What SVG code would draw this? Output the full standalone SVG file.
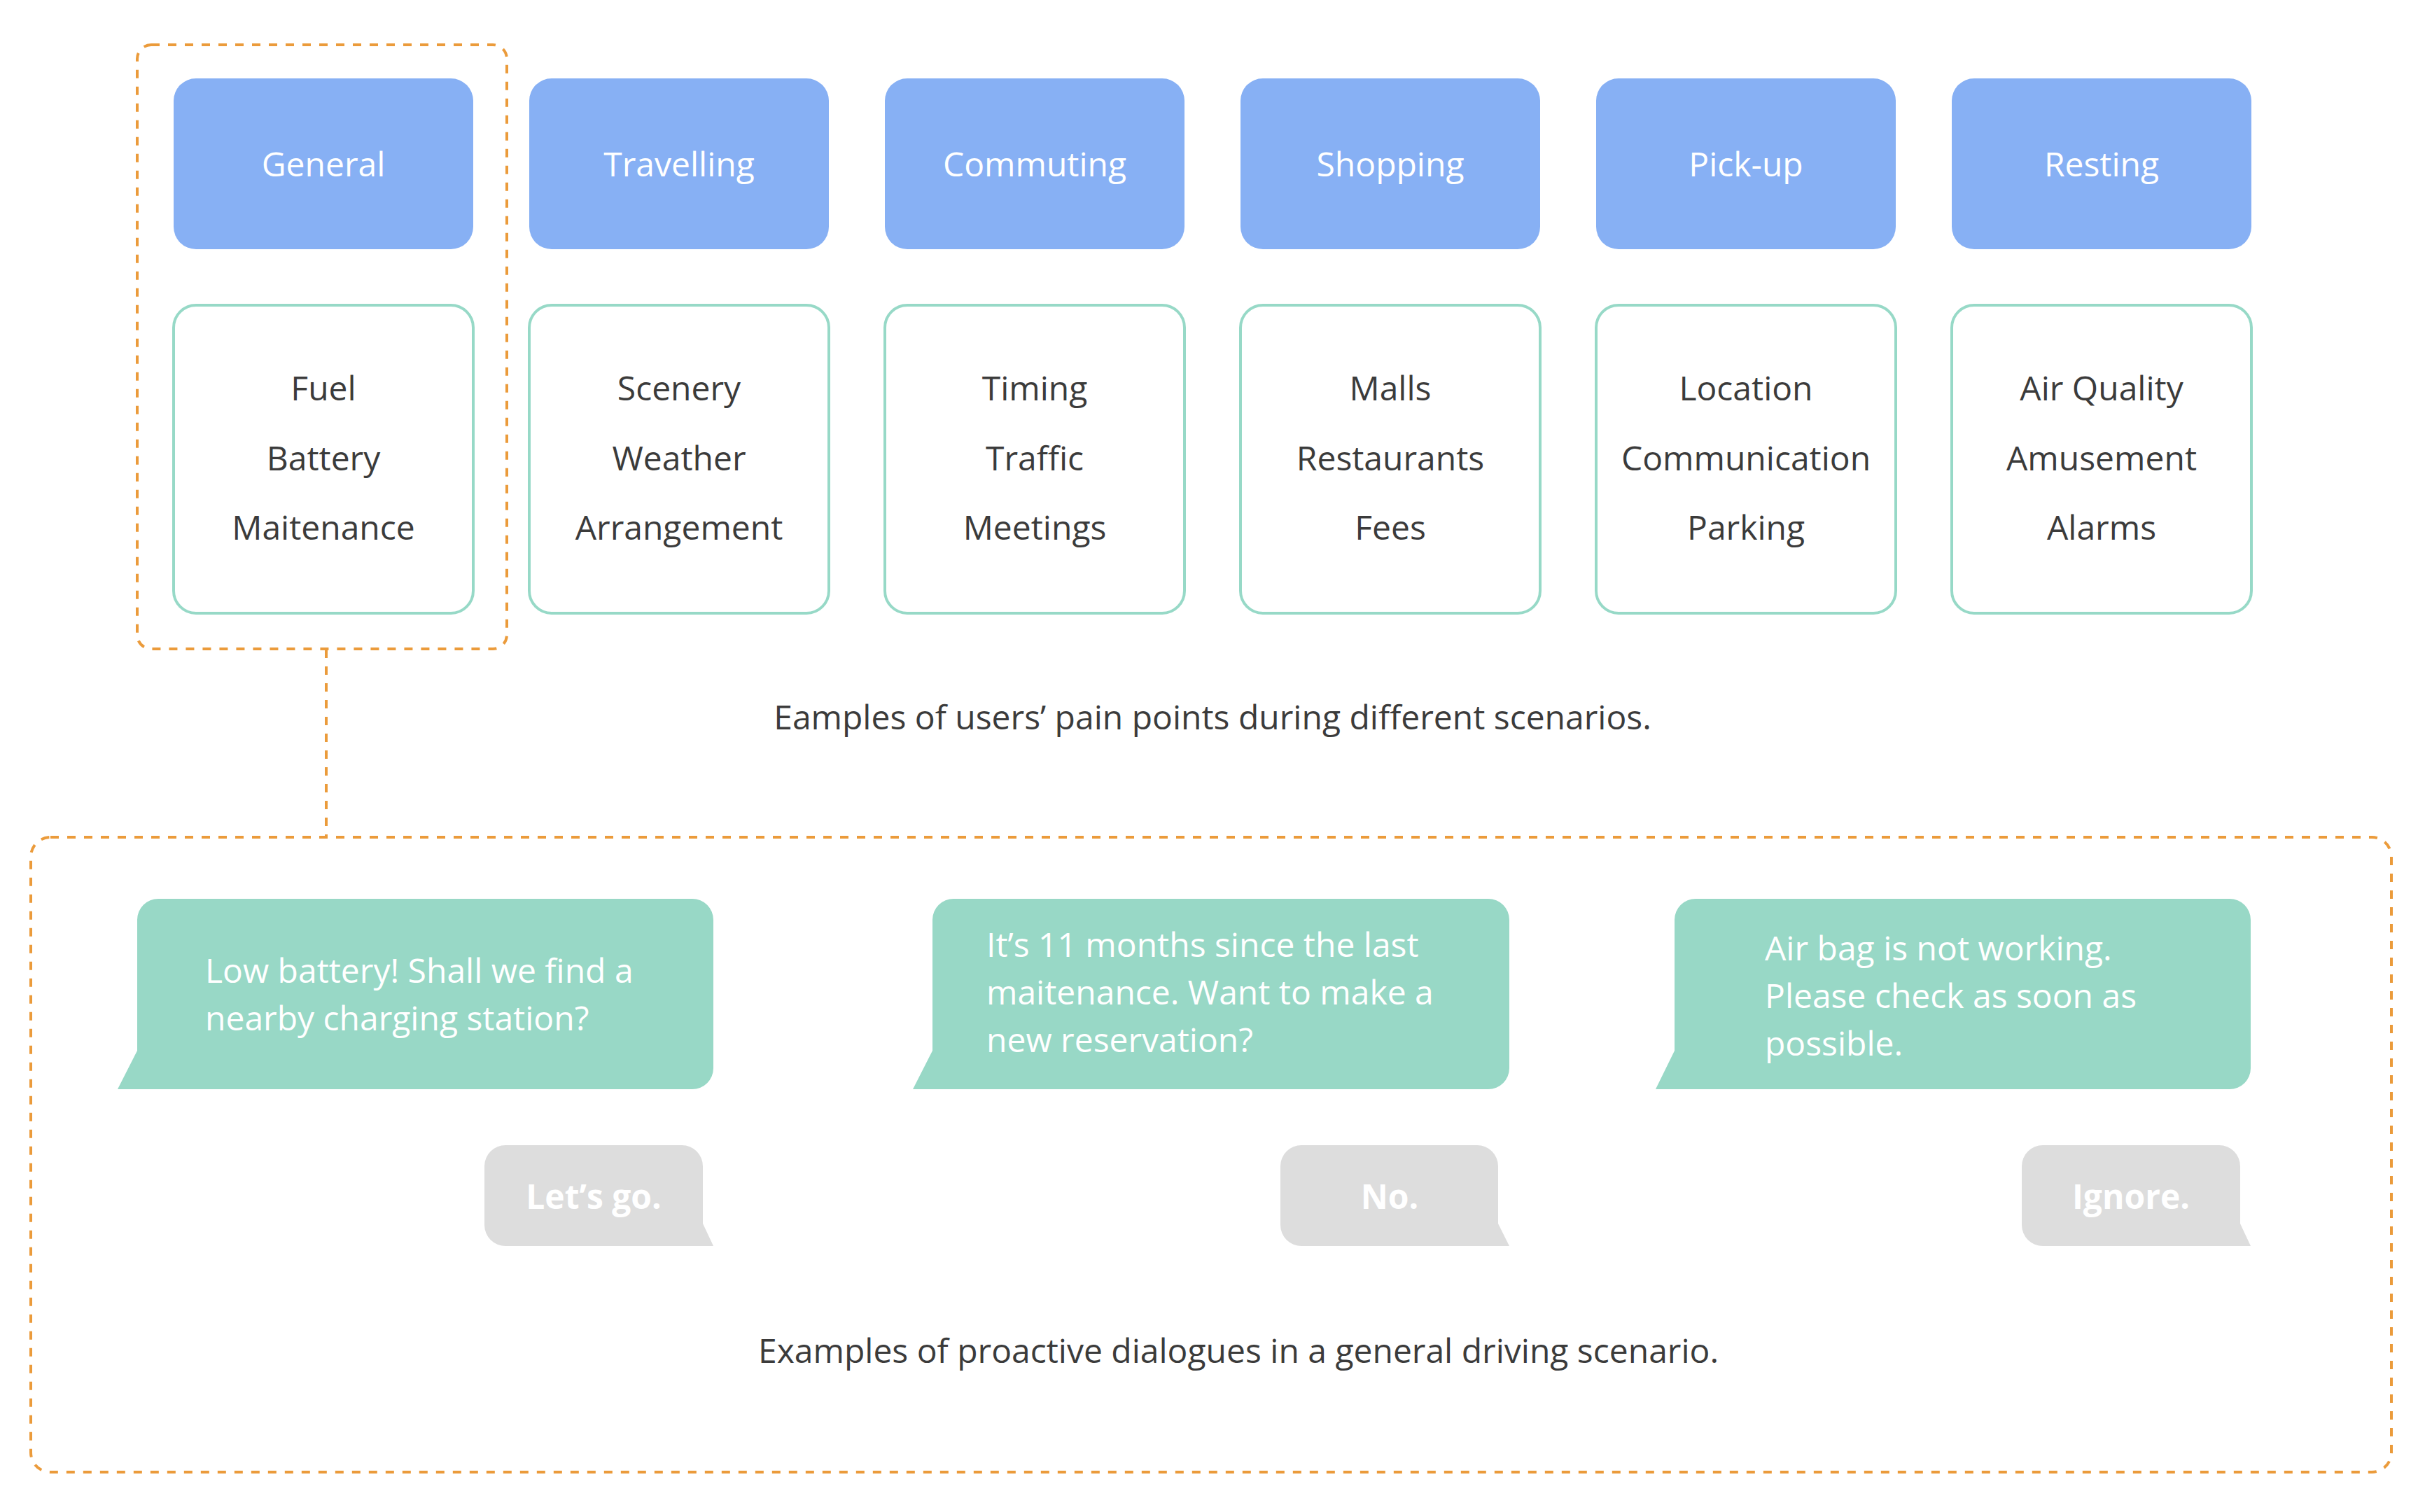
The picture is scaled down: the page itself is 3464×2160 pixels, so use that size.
<svg xmlns="http://www.w3.org/2000/svg" width="3464" height="2160" viewBox="0 0 3464 2160">
<style>
.bg{fill:#ffffff}
.head{fill:#87B0F4}
.list{fill:#ffffff;stroke:#97D9C7;stroke-width:4}
.dash{fill:none;stroke:#EB9B3B;stroke-width:4;stroke-dasharray:12 12}
.green{fill:#98D8C6}
.gray{fill:#DDDDDD}
.t{font-family:"Open Sans","Liberation Sans",sans-serif;font-size:48px}
.ht{fill:#ffffff;text-anchor:middle}
.lt{fill:#3B3B3B;text-anchor:middle}
.cap{fill:#3B3B3B;text-anchor:middle}
.bt{fill:#ffffff;font-weight:400}
.rt{fill:#ffffff;font-weight:700;text-anchor:middle}
</style>
<rect class="bg" x="0" y="0" width="3464" height="2160"/>

<g id="frames">
  <rect id="general-frame" class="dash" x="196" y="64" width="528" height="863" rx="20"/>
  <rect id="dialogue-frame" class="dash" x="44" y="1196" width="3372" height="907" rx="28"/>
</g>

<g id="connectors">
  <line class="dash" x1="466" y1="928" x2="466" y2="1196"/>
</g>

<g id="general">
  <rect class="head" x="248" y="112" width="428" height="244" rx="32"/>
  <text class="t ht" x="462" y="252">General</text>
</g>
<g id="travelling">
  <rect class="head" x="756" y="112" width="428" height="244" rx="32"/>
  <text class="t ht" x="970" y="252">Travelling</text>
</g>
<g id="commuting">
  <rect class="head" x="1264" y="112" width="428" height="244" rx="32"/>
  <text class="t ht" x="1478" y="252">Commuting</text>
</g>
<g id="shopping">
  <rect class="head" x="1772" y="112" width="428" height="244" rx="32"/>
  <text class="t ht" x="1986" y="252">Shopping</text>
</g>
<g id="pickup">
  <rect class="head" x="2280" y="112" width="428" height="244" rx="32"/>
  <text class="t ht" x="2494" y="252">Pick-up</text>
</g>
<g id="resting">
  <rect class="head" x="2788" y="112" width="428" height="244" rx="32"/>
  <text class="t ht" x="3002" y="252">Resting</text>
</g>

<g id="general-list">
  <rect class="list" x="248" y="436" width="428" height="440" rx="32"/>
  <text class="t lt" x="462" y="572">Fuel</text>
  <text class="t lt" x="462" y="672">Battery</text>
  <text class="t lt" x="462" y="771">Maitenance</text>
</g>
<g id="travelling-list">
  <rect class="list" x="756" y="436" width="428" height="440" rx="32"/>
  <text class="t lt" x="970" y="572">Scenery</text>
  <text class="t lt" x="970" y="672">Weather</text>
  <text class="t lt" x="970" y="771">Arrangement</text>
</g>
<g id="commuting-list">
  <rect class="list" x="1264" y="436" width="428" height="440" rx="32"/>
  <text class="t lt" x="1478" y="572">Timing</text>
  <text class="t lt" x="1478" y="672">Traffic</text>
  <text class="t lt" x="1478" y="771">Meetings</text>
</g>
<g id="shopping-list">
  <rect class="list" x="1772" y="436" width="428" height="440" rx="32"/>
  <text class="t lt" x="1986" y="572">Malls</text>
  <text class="t lt" x="1986" y="672">Restaurants</text>
  <text class="t lt" x="1986" y="771">Fees</text>
</g>
<g id="pickup-list">
  <rect class="list" x="2280" y="436" width="428" height="440" rx="32"/>
  <text class="t lt" x="2494" y="572">Location</text>
  <text class="t lt" x="2494" y="672">Communication</text>
  <text class="t lt" x="2494" y="771">Parking</text>
</g>
<g id="resting-list">
  <rect class="list" x="2788" y="436" width="428" height="440" rx="32"/>
  <text class="t lt" x="3002" y="572">Air Quality</text>
  <text class="t lt" x="3002" y="672">Amusement</text>
  <text class="t lt" x="3002" y="771">Alarms</text>
</g>

<g id="caption-1">
  <text class="t cap" x="1732" y="1042">Eamples of users’ pain points during different scenarios.</text>
</g>

<g id="bubble-1">
  <path class="green" d="M226 1284H989A30 30 0 0 1 1019 1314V1526A30 30 0 0 1 989 1556H168L196 1501V1314A30 30 0 0 1 226 1284Z"/>
  <text class="t bt" x="293" y="1404">Low battery! Shall we find a</text>
  <text class="t bt" x="293" y="1472">nearby charging station?</text>
</g>
<g id="reply-1">
  <path class="gray" d="M722 1636H974A30 30 0 0 1 1004 1666V1748L1019 1780H722A30 30 0 0 1 692 1750V1666A30 30 0 0 1 722 1636Z"/>
  <text class="t rt" x="848" y="1727">Let’s go.</text>
</g>

<g id="bubble-2">
  <path class="green" d="M1362 1284H2126A30 30 0 0 1 2156 1314V1526A30 30 0 0 1 2126 1556H1304L1332 1501V1314A30 30 0 0 1 1362 1284Z"/>
  <text class="t bt" x="1409" y="1367">It’s 11 months since the last</text>
  <text class="t bt" x="1409" y="1435">maitenance. Want to make a</text>
  <text class="t bt" x="1409" y="1503">new reservation?</text>
</g>
<g id="reply-2">
  <path class="gray" d="M1859 1636H2110A30 30 0 0 1 2140 1666V1748L2156 1780H1859A30 30 0 0 1 1829 1750V1666A30 30 0 0 1 1859 1636Z"/>
  <text class="t rt" x="1985" y="1727">No.</text>
</g>

<g id="bubble-3">
  <path class="green" d="M2422 1284H3185A30 30 0 0 1 3215 1314V1526A30 30 0 0 1 3185 1556H2365L2392 1501V1314A30 30 0 0 1 2422 1284Z"/>
  <text class="t bt" x="2521" y="1372">Air bag is not working.</text>
  <text class="t bt" x="2521" y="1440">Please check as soon as</text>
  <text class="t bt" x="2521" y="1508">possible.</text>
</g>
<g id="reply-3">
  <path class="gray" d="M2918 1636H3170A30 30 0 0 1 3200 1666V1748L3215 1780H2918A30 30 0 0 1 2888 1750V1666A30 30 0 0 1 2918 1636Z"/>
  <text class="t rt" x="3044" y="1727">Ignore.</text>
</g>

<g id="caption-2">
  <text class="t cap" x="1769" y="1947">Examples of proactive dialogues in a general driving scenario.</text>
</g>
</svg>
